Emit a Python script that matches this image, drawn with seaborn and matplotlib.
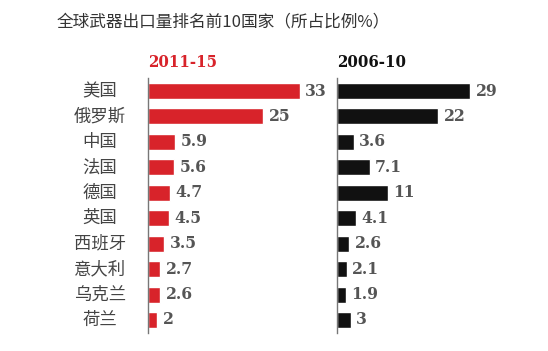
"""
Top 10 arms exporters, share of global exports (%), two periods side by side
"""
import pandas as pd
import matplotlib
matplotlib.use("Agg")
import matplotlib.pyplot as plt
import seaborn as sns

# Data
countries = ["美国", "俄罗斯", "中国", "法国", "德国", "英国", "西班牙", "意大利", "乌克兰", "荷兰"]
share_2011_15 = [33, 25, 5.9, 5.6, 4.7, 4.5, 3.5, 2.7, 2.6, 2]
share_2006_10 = [29, 22, 3.6, 7.1, 11, 4.1, 2.6, 2.1, 1.9, 3]
value_labels_2011_15 = ["33", "25", "5.9", "5.6", "4.7", "4.5", "3.5", "2.7", "2.6", "2"]
value_labels_2006_10 = ["29", "22", "3.6", "7.1", "11", "4.1", "2.6", "2.1", "1.9", "3"]

sns.set_style("white")
plt.rcParams["font.family"] = ["Noto Sans CJK SC", "DejaVu Sans"]

df = pd.DataFrame({
    "country": countries,
    "p1": share_2011_15,
    "p2": share_2006_10,
})

W, H = 548, 351
fig = plt.figure(figsize=(W / 100, H / 100), dpi=100)

# axes placed in pixel terms so both panels share the same scale
px_per_unit = 4.6
bottom = 1 - 332.7 / H
height = 254.4 / H
ax1 = fig.add_axes([148 / W, bottom, (330 - 148) / W, height])
ax2 = fig.add_axes([337 / W, bottom, (W - 337) / W, height])


def draw_panel(ax, col, labels, color, header, header_color):
    sns.barplot(data=df, x=col, y="country", orient="h", color=color,
                width=0.63, ax=ax, saturation=1)
    ax.set_xlim(0, ax.get_position().width * W / px_per_unit)
    ax.set_ylim(9.5, -0.5)
    ax.set_xlabel("")
    ax.set_ylabel("")
    ax.set_xticks([])
    for s in ["top", "right", "bottom"]:
        ax.spines[s].set_visible(False)
    ax.spines["left"].set_color("#777777")
    ax.spines["left"].set_linewidth(1.0)
    for i, (v, t) in enumerate(zip(df[col], labels)):
        ax.annotate(t, (v, i), xytext=(4, 0), textcoords="offset points",
                    va="center", ha="left", fontsize=12.5, fontweight="heavy",
                    family="DejaVu Serif", stretch="condensed", color="#555555")
    ax.text(0, -0.8, header, transform=ax.transData, ha="left", va="bottom",
            fontsize=12, fontweight="heavy", family="DejaVu Serif",
            stretch="condensed", color=header_color)


draw_panel(ax1, "p1", value_labels_2011_15, "#d8232a", "2011-15", "#d8232a")
draw_panel(ax2, "p2", value_labels_2006_10, "#111111", "2006-10", "#111111")

ax1.set_yticks(range(len(countries)))
ax1.set_yticklabels([])
ax1.tick_params(axis="y", length=0)
for i, c in enumerate(countries):
    ax1.text(-48 / px_per_unit, i, c, ha="center", va="center",
             fontsize=12.5, color="#444444")
ax2.set_yticks([])

fig.text(57 / W, 1 - 22 / H, "全球武器出口量排名前10国家（所占比例%）",
         ha="left", va="center", fontsize=12, color="#333333")

fig.savefig("out.png", dpi=100)
